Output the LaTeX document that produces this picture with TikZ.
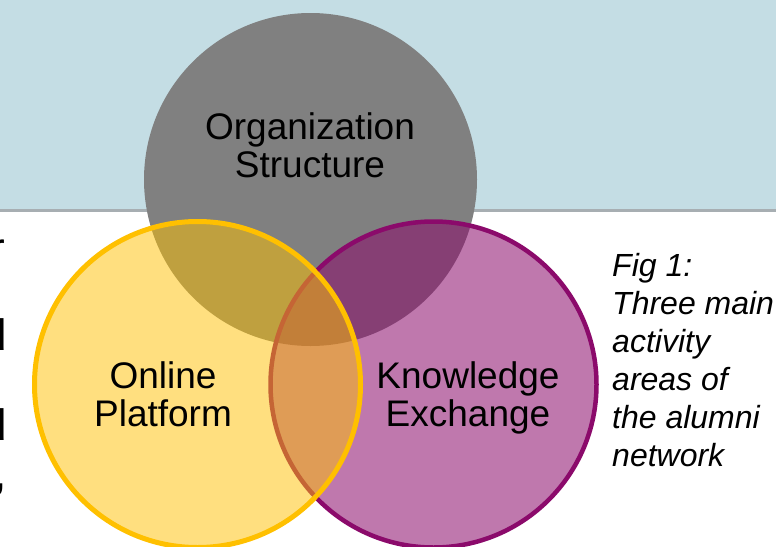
\documentclass[tikz,border=0pt]{standalone}
\usepackage{fontspec}
\setmainfont{Liberation Sans}
\definecolor{bgblue}{HTML}{C4DDE4}
\definecolor{rulegray}{HTML}{A7AEB2}
\definecolor{orggray}{HTML}{808080}
\definecolor{ygold}{HTML}{FFC000}
\definecolor{kpurple}{HTML}{8B0A6B}
\tikzset{
  venn/.style={circle, inner sep=0pt, minimum size=326pt},
  label37/.style={align=center, inner sep=0pt, font=\fontsize{37}{38}\selectfont},
  edgechar/.style={anchor=base east, inner sep=0pt, font=\fontsize{44}{50}\selectfont},
}
\begin{document}
\begin{tikzpicture}[x=1pt,y=-1pt]
\useasboundingbox (0,0) rectangle (776,546);
\clip (0,0) rectangle (776,546);
\fill[white] (0,0) rectangle (776,546);
\fill[bgblue] (0,0) rectangle (776,209);
\fill[rulegray] (0,209) rectangle (776,211.5);
% left edge text fragments
\node[edgechar] (e1) at (5,263) {r};
\node[edgechar] (e2) at (7,350) {d};
\node[edgechar] (e3) at (7,440) {d};
\node[edgechar] (e4) at (7,488) {,};
% circles
\node[venn, minimum size=333pt, fill=orggray] (org) at (310.5,179.5) {};
\node[venn, draw=kpurple, line width=4.5pt, fill=kpurple, fill opacity=0.55] (kno) at (433.5,384.5) {};
\node[venn, draw=ygold, line width=5pt, fill=ygold, fill opacity=0.5] (onl) at (197.5,384.5) {};
% labels
\node[label37] (torg) at (310,145.5) {Organization\\Structure};
\node[label37] (tonl) at (163,394.5) {Online\\Platform};
\node[label37] (tkno) at (468,398) {Knowledge\\Exchange};
\node[anchor=north west, align=left, inner sep=0pt, font=\itshape\fontsize{32}{38}\selectfont] (cap) at (612,253.5) {Fig 1:\\Three main\\activity\\areas of\\the alumni\\network};
\end{tikzpicture}
\end{document}
